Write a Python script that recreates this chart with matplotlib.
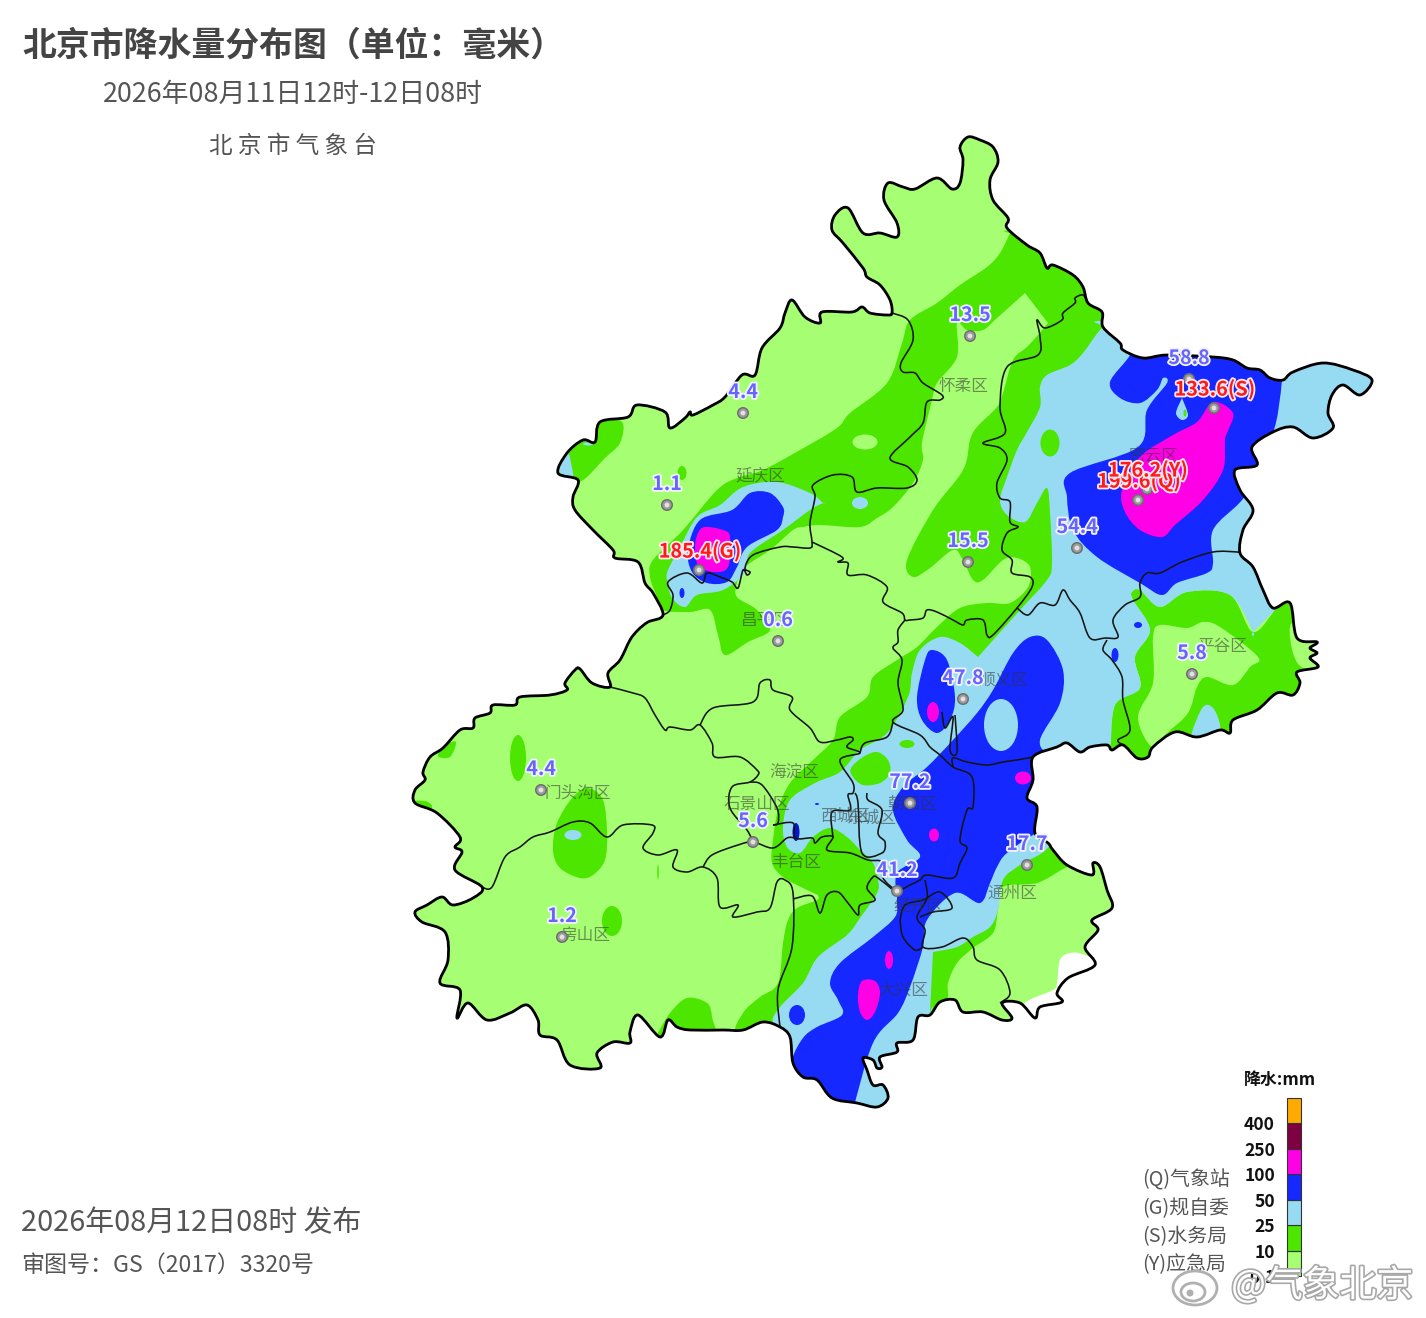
import matplotlib
matplotlib.use('Agg')
import matplotlib.pyplot as plt
import matplotlib.patheffects as pe
from matplotlib.path import Path
from matplotlib.patches import PathPatch, Ellipse, Rectangle
import numpy as np

plt.rcParams['font.family'] = ['Noto Sans CJK SC', 'DejaVu Sans']

LIGHT = '#A6FF73'
GREEN = '#4CE600'
SKY = '#97DBF2'
BLUE = '#1428FF'
MAGENTA = '#FF00E6'
DARK = '#7F0040'
ORANGE = '#FFAA00'

border = [(960,147),(968,137),(980,140),(993,147),(998,162),(990,180),(993,200),(1008,218),(1007,228),(1027,245),
          (1040,253),(1047,268),(1053,265),(1073,275),(1083,287),(1088,303),(1102,312),(1103,327),(1120,343),(1123,350),
          (1143,358),(1167,355),(1213,357),(1233,360),(1247,368),(1260,370),(1270,378),(1283,380),(1293,372),(1323,363),
          (1353,370),(1372,380),(1360,395),(1343,385),(1332,395),(1328,413),(1333,428),(1313,438),(1293,427),(1273,432),
          (1252,447),(1257,465),(1235,470),(1240,490),(1253,510),(1243,530),(1240,553),(1253,567),(1263,590),(1273,608),
          (1290,603),(1297,638),(1317,642),(1310,648),(1317,653),(1310,658),(1318,667),(1297,672),(1300,683),(1293,695),
          (1277,693),(1257,710),(1233,720),(1230,733),(1220,730),(1197,737),(1175,732),(1153,747),(1148,757),(1137,758),
          (1123,745),(1112,750),(1107,745),(1090,747),(1080,752),(1067,743),(1057,747),(1033,757),(1033,780),(1027,798),
          (1037,807),(1035,833),(1048,843),(1053,850),(1067,865),(1092,875),(1093,863),(1100,867),(1107,890),(1112,908),
          (1092,920),(1098,930),(1085,947),(1095,965),(1068,978),(1057,993),(1062,1002),(1040,1007),(1035,1018),(1020,1003),
          (1002,1003),(1012,1018),(1002,1020),(983,1012),(963,1012),(955,1000),(940,1002),(930,1015),(918,1017),(913,1040),
          (897,1043),(897,1052),(880,1057),(882,1067),(877,1068),(873,1060),(863,1058),(867,1070),(873,1085),(883,1085),
          (888,1098),(877,1107),(857,1103),(832,1098),(817,1080),(803,1077),(793,1063),(790,1037),(780,1027),(763,1022),
          (743,1030),(723,1030),(690,1030),(677,1027),(668,1020),(660,1037),(638,1015),(630,1032),(630,1043),(613,1042),
          (597,1053),(600,1068),(570,1065),(557,1040),(540,1035),(538,1020),(527,1005),(510,1013),(487,1020),(468,1003),
          (457,1018),(460,990),(440,983),(448,960),(445,932),(422,922),(415,912),(427,905),(442,897),(453,905),
          (473,898),(482,887),(455,870),(462,852),(455,847),(460,837),(437,813),(415,803),(415,790),(425,780),
          (423,772),(430,757),(443,748),(460,730),(473,728),(475,718),(490,713),(493,705),(515,705),(520,697),
          (550,695),(567,690),(565,683),(575,670),(580,669),(592,683),(610,687),(608,673),(620,660),(630,640),
          (638,630),(648,622),(663,615),(653,593),(645,583),(638,562),(615,558),(613,550),(593,530),(575,510),
          (573,497),(578,480),(558,473),(567,453),(583,440),(595,442),(600,422),(628,417),(637,405),(665,412),
          (670,428),(685,418),(690,412),(693,415),(713,405),(725,397),(742,375),(755,375),(762,348),(780,328),
          (785,313),(792,300),(805,317),(820,323),(822,312),(852,312),(862,307),(870,313),(887,315),(892,313),
          (890,300),(880,285),(867,277),(863,268),(843,243),(832,230),(835,215),(848,208),(863,233),(880,233),
          (897,237),(897,223),(884,200),(888,183),(903,187),(915,189),(937,178),(952,189),(960,183),(963,160)]

district_lines = [
    [(892,313),(908,320),(913,340),(901,363),(903,372),(915,373),(923,383),(942,395),(940,400),(927,402),(923,423),
     (910,437),(890,458),(908,467),(917,480),(907,488),(877,488),(857,492),(852,477),(833,475),(813,485),(815,497),
     (810,523),(812,542),(810,548),(793,547),(780,547),(753,555),(745,568),(750,572),(747,575),(743,570),(738,588),
     (732,582),(720,577),(707,573),(702,583),(687,573),(668,582),(673,595),(670,610),(663,615)],
    [(812,542),(842,557),(838,562),(848,563),(848,575),(867,575),(887,587),(883,602),(902,613),(905,620),(910,620),
     (923,618),(927,610),(937,612),(953,620),(963,625),(967,620),(983,620),(987,635),(993,635),(1017,608),(1032,587),
     (1030,577),(1012,573),(1012,560),(1002,550),(1007,533),(1018,527),(1010,522),(1010,502),(1000,498),(997,483),
     (1007,460),(1000,448),(983,443),(1005,433),(1000,407),(1007,367),(1038,355),(1040,337),(1037,320),(1045,328),
     (1062,320),(1063,313),(1075,303),(1075,298),(1083,295),(1088,303)],
    [(1017,608),(1028,615),(1040,603),(1055,605),(1063,590),(1070,600),(1080,613),(1090,638),(1105,638),(1118,637),
     (1113,620),(1125,605),(1140,597),(1140,583),(1147,573),(1160,573),(1182,562),(1213,552),(1237,552),(1240,553)],
    [(1107,640),(1103,650),(1112,660),(1122,677),(1123,700),(1130,730),(1118,740),(1123,745)],
    [(905,620),(898,630),(898,642),(893,648),(902,660),(898,683),(903,710),(893,722),(920,735),(930,747),(940,755),
     (953,767),(972,777),(973,807),(967,810),(960,840),(967,848),(960,863),(953,878),(927,875),(920,880),(910,885),
     (897,890),(883,878),(882,862),(868,860),(850,853),(827,850),(833,837),(822,837),(815,843),(812,838),(795,838),
     (793,823),(773,825)],
    [(953,767),(953,758),(967,762),(987,765),(1003,762),(1017,760),(1033,757)],
    [(942,712),(945,728),(953,717),(950,750),(957,752),(955,715)],
    [(610,687),(633,693),(645,698),(655,715),(665,730),(670,727),(690,730),(700,725),(712,743),(715,757),(740,757),
     (757,770),(758,775),(750,782),(732,787),(730,808),(747,830),(753,842)],
    [(700,725),(713,708),(753,702),(760,683),(770,680),(773,690),(792,697),(790,710),(810,728),(820,742),(837,740),
     (850,737),(853,740),(847,747),(860,753),(840,760),(853,783),(853,793),(848,795),(850,810),(832,812),(833,837)],
    [(860,753),(865,743),(887,737),(893,722)],
    [(750,782),(762,785),(777,808),(778,823),(773,825)],
    [(855,793),(858,803),(862,853),(882,853),(885,842),(878,833),(882,810),(868,800),(867,793)],
    [(482,887),(492,887),(505,857),(520,847),(533,837),(550,832),(573,822),(590,823),(607,837),(623,825),(652,825),
     (653,833),(643,848),(658,855),(677,850),(673,867),(687,872),(703,867),(717,878),(720,907),(738,905),(733,917),
     (757,912),(770,908),(777,882),(785,880),(793,893),(792,947),(778,990),(780,1027)],
    [(703,867),(712,855),(738,845),(753,842),(773,848),(787,838),(795,838)],
    [(793,899),(812,896),(820,913),(827,895),(838,892),(848,903),(858,915),(860,905),(875,900),(867,888),(873,877),
     (878,878),(893,890)],
    [(925,880),(927,898),(917,917),(925,930),(923,947),(942,947),(963,938),(973,947),(977,960),(1000,970),(1010,993),
     (1000,1003)],
    [(900,920),(903,937),(915,950),(923,947)],
    [(900,920),(905,905),(923,900),(940,892),(952,908),(933,912),(920,917)],
]

# a doubled point keeps a sharp tip after smoothing
green_main = [(1010,233),(1000,253),(987,267),(960,285),(937,303),(910,320),(902,343),(887,383),(850,413),(837,428),
              (800,450),(763,470),(737,478),(717,490),(683,530),(653,560),(650,577),(657,597),(662,610),
              (690,612),(710,610),(718,635),(725,655),(748,642),(770,630),(757,610),(737,597),(737,583),
              (745,567),(770,550),(793,530),(803,527),(820,525),(860,527),(877,518),(893,507),(913,483),(923,460),
              (922,443),(932,400),(937,383),(957,357),(957,323),(967,330),(983,330),(997,318),(1025,293),(1025,293),
              (1048,323),(1048,323),(1038,335),(1027,347),(1013,360),(1003,393),(997,407),(977,427),(970,440),(963,470),
              (933,510),(907,560),(913,577),(930,568),(953,550),(963,560),(973,580),(983,580),(1003,560),(1017,558),
              (1030,567),(1028,587),(1010,603),(987,603),(960,608),(937,627),(917,647),(897,660),(873,677),(867,697),
              (840,717),(833,740),(813,760),(790,783),(778,810),(773,840),(772,863),(783,877),(803,888),(818,895),
              (818,895),(817,900),(797,908),(788,920),(783,943),(778,983),(760,997),(743,1013),(738,1035),(790,1040),
              (850,960),(880,900),(880,780),(950,680),(1030,640),(1060,540),(1050,400),(1130,330),(1100,250),(1010,233)]
green_pinggu = [(1110,780),(1110,760),(1115,705),(1140,688),(1135,657),(1150,630),(1133,600),(1132,592),(1140,590),(1160,607),
                (1187,592),(1230,595),(1253,632),(1277,608),(1290,603),(1330,603),(1330,700),(1250,780)]
green_tongzhou = [(1050,835),(1085,860),(1065,868),(1037,883),(1003,887),(998,910),(993,933),(973,948),(957,963),(948,983),
                  (947,1000),(930,1020),(925,945),(990,915),(1003,870)]
green_west = [(600,420),(622,422),(620,443),(605,458),(587,477),(578,482),(572,478),(565,450),(585,438)]
green_mentou = [(588,788),(603,800),(607,833),(605,860),(593,875),(580,878),(560,868),(553,850),(557,823),(573,797)]
green_south = [(655,1040),(658,1033),(670,1013),(687,998),(707,1003),(712,1017),(712,1040)]
green_corner = [(438,756),(450,757),(456,742),(445,745)]
green_edge = [(412,802),(425,801),(432,806),(428,812)]
green_yanghe = [(851,768),(863,757),(877,752),(888,760),(890,773),(880,783),(863,785),(853,777)]

light_pinggu = [(1160,625),(1187,628),(1203,622),(1220,627),(1258,657),(1250,667),(1233,685),(1207,677),(1197,687),(1188,713),
                (1167,733),(1152,747),(1138,717),(1153,683),(1153,637)]
light_pinggu_e = [(1290,627),(1293,653),(1303,668),(1325,668),(1325,630),(1300,620)]

sky_main = [(1102,328),(1120,320),(1400,320),(1400,600),(1290,603),(1277,608),(1277,608),(1253,632),(1253,632),(1230,595),
            (1187,592),(1160,607),(1140,590),(1132,592),(1133,600),(1150,630),(1135,657),(1140,688),(1115,705),(1110,747),
            (1100,760),(1060,800),(1050,845),(1020,865),(1003,880),(998,910),(990,927),(973,937),(957,947),(933,952),
            (933,952),(930,1012),(930,1012),(890,1112),(860,1112),(795,1075),(790,1040),(773,1023),(780,1007),(803,983),
            (818,957),(847,935),(860,918),(877,893),(878,880),(873,863),(860,850),(847,837),(830,828),(813,837),
            (800,853),(787,847),(783,827),(790,800),(815,783),(840,772),(860,750),(887,733),(908,697),(912,673),
            (920,650),(940,637),(960,643),(978,657),(978,657),(1020,610),(1047,580),(1052,563),(1050,513),(1047,488),
            (1037,503),(1025,522),(1007,515),(1000,500),(1007,477),(1017,450),(1027,432),(1040,407),(1040,387),(1047,375),
            (1070,365),(1083,353)]
sky_yanqing = [(823,503),(823,503),(810,493),(777,482),(743,487),(720,505),(697,517),(680,547),(668,570),(667,580),
               (672,598),(685,607),(697,595),(723,590),(745,573),(750,553),(783,530),(810,510)]
sky_west = [(567,452),(572,468),(572,480),(555,478),(555,465)]
sky_pinggu = [(1192,732),(1203,707),(1213,708),(1220,725),(1218,742),(1193,742)]
sky_hole = [(1182,398),(1182,398),(1188,415),(1182,420),(1176,413)]

blue_miyun = [(1130,355),(1110,382),(1120,398),(1140,403),(1157,390),(1163,378),(1167,383),(1147,410),(1138,447),(1070,473),
              (1067,497),(1073,530),(1097,557),(1140,583),(1162,595),(1177,583),(1207,573),(1213,563),(1213,530),(1242,500),
              (1260,470),(1252,447),(1273,432),(1282,380),(1282,340),(1130,340)]
blue_yanqing = [(783,507),(770,493),(750,493),(732,510),(700,520),(688,550),(692,572),(707,583),(727,582),(737,567),
                (747,547),(777,530),(783,517)]
blue_shunyi = [(932,650),(947,660),(955,697),(950,720),(937,733),(922,720),(917,697),(925,660)]
blue_main = [(1030,637),(1047,640),(1063,670),(1060,703),(1040,740),(1050,755),(1070,760),(1060,830),(1037,833),(1007,853),
             (997,867),(990,883),(980,903),(955,893),(927,920),(923,947),(910,987),(898,1013),(873,1043),(853,1110),
             (853,1115),(790,1090),(792,1060),(803,1038),(817,1027),(842,1015),(838,1000),(830,983),(840,963),(873,937),
             (895,917),(897,900),(897,873),(920,857),(907,840),(893,810),(903,787),(927,767),(953,740),(977,713),
             (993,690),(1013,653)]

magenta_miyun = [(1213,402),(1233,413),(1227,433),(1225,440),(1223,470),(1203,500),(1175,525),(1162,537),(1140,530),(1125,512),
                 (1122,490),(1140,457),(1173,435),(1197,422)]
magenta_yanqing = [(705,527),(723,530),(730,537),(728,567),(713,572),(698,565),(695,547),(698,533)]
magenta_daxing = [(862,981),(875,981),(880,993),(875,1012),(867,1020),(860,1012),(858,995)]

white_gap = [(1023,1005),(1053,990),(1057,983),(1060,960),(1070,953),(1085,955),(1110,970),(1060,1020),(1030,1030)]

# blobs as centre x, centre y, width, height
green_blobs = [(518,758,16,46),(612,921,20,30),(682,473,9,14),(658,872,1.5,15)]
green_over_sky = [(1050,443,19,27),(907,744,15,8)]
green_over_blue = [(1185,413,3,7)]
light_blobs = [(865,442,25,15)]
sky_blobs = [(573,835,17,10),(860,503,16,12),(588,444,10,3)]
sky_over_blue = [(1001,725,34,52)]
blue_blobs = [(682,593,5,10),(1138,625,8,6),(1115,655,7,14),(797,1015,16,20),(817,804,4,2)]
navy_blobs = [(796,832,7,18)]
magenta_blobs = [(933,712,12,20),(1023,778,16,13),(934,835,10,13),(889,960,8,18)]

station_x = [970,743,667,778,968,1077,1189,1192,963,910,753,1027,897,541,562]
station_y = [336,413,505,641,562,548,379,674,699,803,842,865,891,790,937]
station_val = ['13.5','4.4','1.1','0.6','15.5','54.4','58.8','5.8','47.8','77.2','5.6','17.7','41.2','4.4','1.2']
heavy_x = [699,1214,1138,1147]
heavy_y = [570,408,500,489]
heavy_val = ['185.4(G)','133.6(S)','199.6(Q)','176.2(Y)']
district_names = ['怀柔区','延庆区','密云区','平谷区','昌平区','顺义区','海淀区','朝阳区','石景山区','门头沟区',
                  '西城区','东城区','丰台区','房山区','大兴区','通州区','经开区']
district_x = [963,760,1153,1222,765,1003,794,912,757,578,845,872,796,585,903,1012,918]
district_y = [387,476,456,646,620,680,772,804,804,793,816,818,862,935,990,893,906]

legend_colors = [LIGHT, GREEN, SKY, BLUE, MAGENTA, DARK, ORANGE]
legend_ticks = ['0.1','10','25','50','100','250','400']
source_names = ['(Q)气象站','(G)规自委','(S)水务局','(Y)应急局']


def spline_path(pts, closed=True):
    # catmull-rom through the traced points, as cubic beziers
    p = np.array(pts, dtype=float)
    n = len(p)
    verts = [p[0]]
    codes = [Path.MOVETO]
    for i in range(n if closed else n - 1):
        if closed:
            p0, p1, p2, p3 = p[(i - 1) % n], p[i], p[(i + 1) % n], p[(i + 2) % n]
        else:
            p0, p1, p2, p3 = p[max(i - 1, 0)], p[i], p[i + 1], p[min(i + 2, n - 1)]
        verts += [p1 + (p2 - p0) / 6, p2 - (p3 - p1) / 6, p2]
        codes += [Path.CURVE4] * 3
    return Path(verts, codes)


def add_shape(pts, color, clip, z):
    patch = PathPatch(spline_path(pts), facecolor=color, edgecolor='none', zorder=z)
    ax.add_patch(patch)
    patch.set_clip_path(clip)


def add_blobs(blobs, color, clip, z):
    for cx, cy, w, h in blobs:
        e = Ellipse((cx, cy), w, h, facecolor=color, edgecolor='none', zorder=z)
        ax.add_patch(e)
        e.set_clip_path(clip)


fig = plt.figure(figsize=(14.26, 13.18), dpi=100)
ax = fig.add_axes([0, 0, 1, 1])
ax.set_xlim(0, 1426)
ax.set_ylim(1318, 0)
ax.axis('off')

base = PathPatch(spline_path(border), facecolor=LIGHT, edgecolor='none', zorder=1)
ax.add_patch(base)

for shape in [green_main, green_pinggu, green_tongzhou, green_west, green_mentou, green_south,
              green_corner, green_edge]:
    add_shape(shape, GREEN, base, 2)
add_blobs(green_blobs, GREEN, base, 2)
for shape in [light_pinggu, light_pinggu_e]:
    add_shape(shape, LIGHT, base, 3)
add_blobs(light_blobs, LIGHT, base, 3)
for shape in [sky_main, sky_yanqing, sky_west, sky_pinggu]:
    add_shape(shape, SKY, base, 4)
add_blobs(sky_blobs, SKY, base, 5)
add_shape(green_yanghe, GREEN, base, 5)
add_blobs(green_over_sky, GREEN, base, 5)
for shape in [blue_miyun, blue_yanqing, blue_shunyi, blue_main]:
    add_shape(shape, BLUE, base, 6)
add_blobs(blue_blobs, BLUE, base, 7)
add_blobs(navy_blobs, '#0A14C8', base, 7)
add_shape(sky_hole, SKY, base, 7)
add_blobs(sky_over_blue, SKY, base, 7)
add_blobs(green_over_blue, GREEN, base, 8)
for shape in [magenta_miyun, magenta_yanqing, magenta_daxing]:
    add_shape(shape, MAGENTA, base, 8)
add_blobs(magenta_blobs, MAGENTA, base, 8)
add_shape(white_gap, 'white', base, 9)

for line in district_lines:
    ax.add_patch(PathPatch(spline_path(line, closed=False), facecolor='none', edgecolor='#151515', lw=1.15, zorder=10))
ax.add_patch(PathPatch(spline_path(border), facecolor='none', edgecolor='black', lw=2.0, zorder=11))

for name, x, y in zip(district_names, district_x, district_y):
    ax.text(x, y, name, color='#333333', alpha=0.55, fontsize=12, ha='center', va='center', zorder=12)

# station dots, then rain labels
all_x = station_x + heavy_x
all_y = station_y + heavy_y
ax.scatter(all_x, all_y, s=75, color='#6E6E6E', edgecolors='none', zorder=13)
ax.scatter(all_x, all_y, s=42, color='#9C9C9C', edgecolors='none', zorder=14)
ax.scatter(all_x, all_y, s=12, color='#E2E2E2', edgecolors='none', zorder=14)

halo = [pe.withStroke(linewidth=2.6, foreground='#F2F2FF')]
for x, y, v in zip(station_x, station_y, station_val):
    ax.text(x, y - 20.5, v, color='#6666FF', fontsize=14.2, fontweight='bold', ha='center', va='center',
            path_effects=halo, zorder=15)
red_halo = [pe.withStroke(linewidth=2.6, foreground='#FFE6F0')]
for x, y, v in zip(heavy_x, heavy_y, heavy_val):
    ax.text(x + 1, y - 19, v, color='#FF1A1A', fontsize=14.3, fontweight='bold', ha='center', va='center',
            path_effects=red_halo, zorder=15)

# titles
ax.text(22, 45.5, '北京市降水量分布图（单位：毫米）', color='#444444', fontsize=24.4, fontweight='bold', ha='left', va='center')
ax.text(293, 94, '2026年08月11日12时-12日08时', color='#555555', fontsize=19.4, ha='center', va='center')
ax.text(293, 146, '北 京 市 气 象 台', color='#555555', fontsize=17, ha='center', va='center')
ax.text(21, 1223, '2026年08月12日08时 发布', color='#555555', fontsize=20.8, ha='left', va='center')
ax.text(21, 1265.5, '审图号：GS（2017）3320号', color='#555555', fontsize=16.6, ha='left', va='center')

# legend bar, cells stacked from the bottom
bar_top = 1098
cell = (1276 - bar_top) / len(legend_colors)
for i, c in enumerate(legend_colors):
    y0 = 1276 - (i + 1) * cell
    ax.add_patch(Rectangle((1287, y0), 13.5, cell, facecolor=c, edgecolor='#333333', lw=0.8, zorder=5))
    ax.text(1275, y0 + cell + 2, legend_ticks[i], color='#111111', fontsize=12.6, fontweight='bold', ha='right',
            va='center', zorder=5)
ax.text(1280, 1080, '降水:mm', color='#111111', fontsize=12.2, fontweight='bold', ha='center', va='center')
for i, name in enumerate(source_names):
    ax.text(1142, 1180 + i * 28.3, name, color='#555555', fontsize=14.3, ha='left', va='center', zorder=5)

# watermark
mark = [pe.withStroke(linewidth=2.4, foreground='#A8A8A8')]
ax.text(1322, 1286, '@气象北京', color='white', fontsize=26.5, ha='center', va='center', path_effects=mark, zorder=20)
ax.add_patch(Ellipse((1195, 1288), 44, 34, facecolor='white', edgecolor='#B0B0B0', lw=2, zorder=20))
ax.add_patch(Ellipse((1193, 1292), 24, 18, facecolor='white', edgecolor='#B0B0B0', lw=2, zorder=21))
ax.add_patch(Ellipse((1190, 1293), 7, 7, facecolor='#B0B0B0', edgecolor='none', zorder=22))

fig.savefig('out.png', dpi=100, facecolor='white')
